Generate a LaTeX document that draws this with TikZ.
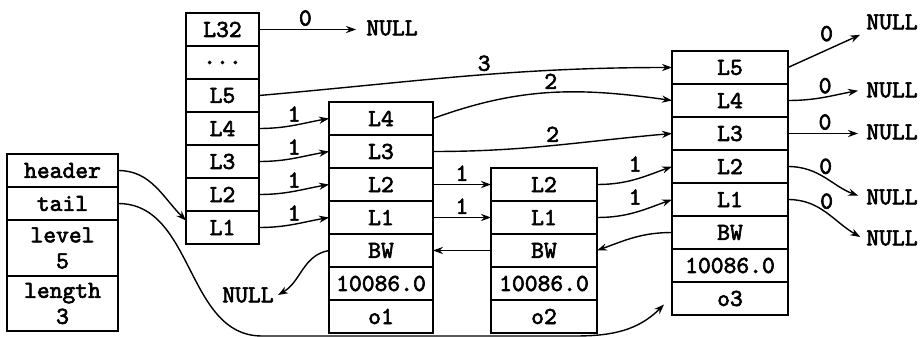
\documentclass[tikz,border=0pt]{standalone}
\usepackage{fontspec}
\newfontfamily\cellface{lmmono10-regular.otf}[FakeBold=2.5]
\usetikzlibrary{positioning,arrows.meta}
\newcommand{\cellfont}{\cellface\fontsize{12.2}{13}\selectfont}

\begin{document}
\begin{tikzpicture}[x=0.5pt, y=-0.5pt,
    node distance=0pt,
    cell/.style={rectangle, draw, line width=1pt, outer sep=0pt, inner sep=0pt,
                 minimum height=16.5pt, align=center, font=\cellfont},
    hdcell/.style={cell, minimum width=36.5pt},
    n1cell/.style={cell, minimum width=52pt},
    n2cell/.style={cell, minimum width=53pt},
    n3cell/.style={cell, minimum width=58pt},
    zslcell/.style={cell, minimum width=55.5pt},
    nul/.style={font=\cellfont, inner sep=2pt},
    lbl/.style={font=\cellfont, inner sep=1.5pt},
    link/.style={->, >={Stealth[length=5pt, width=3.6pt]}, line width=0.7pt}
  ]
  \useasboundingbox (0,0) rectangle (921,337);

  % zskiplist
  \node[zslcell, anchor=north west] (header) at (7,154) {header};
  \node[zslcell, below=of header] (tail) {tail};
  \node[zslcell, below=of tail, minimum height=28pt] (level) {level\\5};
  \node[zslcell, below=of level, minimum height=27.5pt] (length) {length\\3};

  % header node
  \node[hdcell, anchor=north west] (hl32) at (186,13) {L32};
  \node[hdcell, below=of hl32] (hdots) {...};
  \node[hdcell, below=of hdots] (hl5) {L5};
  \node[hdcell, below=of hl5] (hl4) {L4};
  \node[hdcell, below=of hl4] (hl3) {L3};
  \node[hdcell, below=of hl3] (hl2) {L2};
  \node[hdcell, below=of hl2] (hl1) {L1};

  % node o1
  \node[n1cell, anchor=north west] (n1l4) at (329,102) {L4};
  \node[n1cell, below=of n1l4] (n1l3) {L3};
  \node[n1cell, below=of n1l3] (n1l2) {L2};
  \node[n1cell, below=of n1l2] (n1l1) {L1};
  \node[n1cell, below=of n1l1] (n1bw) {BW};
  \node[n1cell, below=of n1bw] (n1score) {10086.0};
  \node[n1cell, below=of n1score] (n1obj) {o1};

  % node o2
  \node[n2cell, anchor=north west] (n2l2) at (491,168) {L2};
  \node[n2cell, below=of n2l2] (n2l1) {L1};
  \node[n2cell, below=of n2l1] (n2bw) {BW};
  \node[n2cell, below=of n2bw] (n2score) {10086.0};
  \node[n2cell, below=of n2score] (n2obj) {o2};

  % node o3
  \node[n3cell, anchor=north west] (n3l5) at (672,51) {L5};
  \node[n3cell, below=of n3l5] (n3l4) {L4};
  \node[n3cell, below=of n3l4] (n3l3) {L3};
  \node[n3cell, below=of n3l3] (n3l2) {L2};
  \node[n3cell, below=of n3l2] (n3l1) {L1};
  \node[n3cell, below=of n3l1] (n3bw) {BW};
  \node[n3cell, below=of n3bw] (n3score) {10086.0};
  \node[n3cell, below=of n3score] (n3obj) {o3};

  % NULL ends
  \node[nul] (null0) at (392,28) {NULL};
  \node[nul] (nullbw) at (248,295) {NULL};
  \node[nul] (nr5) at (892,22) {NULL};
  \node[nul] (nr4) at (892,90) {NULL};
  \node[nul] (nr3) at (892,132) {NULL};
  \node[nul] (nr2) at (892,197) {NULL};
  \node[nul] (nr1) at (892,238) {NULL};

  \coordinate (low1) at (262,336);
  \coordinate (low2) at (575,336);

  % forward links
  \draw[link, shorten >=3pt] (hl32.east) -- (hl32.east -| null0.west) node[lbl, pos=0.45, above] {0};
  \draw[link] (hl5.east) to[out=5, in=180] node[lbl, pos=0.55, above] {3} (n3l5.west);
  \draw[link] (hl4.east) to[out=0, in=190] node[lbl, midway, above] {1} (n1l4.west);
  \draw[link] (hl3.east) to[out=0, in=190] node[lbl, midway, above] {1} (n1l3.west);
  \draw[link] (hl2.east) to[out=0, in=190] node[lbl, midway, above] {1} (n1l2.west);
  \draw[link] (hl1.east) to[out=0, in=190] node[lbl, midway, above] {1} (n1l1.west);
  \draw[link] (n1l4.east) to[out=20, in=172] node[lbl, midway, above] {2} (n3l4.west);
  \draw[link] (n1l3.east) to[out=0, in=185] node[lbl, midway, above] {2} (n3l3.west);
  \draw[link] (n1l2) -- node[lbl, above] {1} (n2l2);
  \draw[link] (n1l1) -- node[lbl, above] {1} (n2l1);
  \draw[link] (n2l2.east) to[out=0, in=200] node[lbl, midway, above, yshift=2pt] {1} (n3l2.west);
  \draw[link] (n2l1.east) to[out=0, in=200] node[lbl, midway, above, yshift=2pt] {1} (n3l1.west);

  % backward links
  \draw[link] (n2bw) -- (n1bw);
  \draw[link] (n3bw.west) to[out=180, in=20] (n2bw.east);
  \draw[link] (n1bw.west) to[out=190, in=30] (nullbw.east);

  % level ends of o3
  \draw[link, shorten >=1pt] (n3l5.east) -- (nr5.south west) node[lbl, pos=0.55, above left=2pt and -4pt] {0};
  \draw[link, shorten >=2pt] (n3l4.east) to[out=0, in=190] node[lbl, midway, above] {0} (nr4.west);
  \draw[link, shorten >=2pt] (n3l3.east) -- node[lbl, above] {0} (n3l3.east -| nr3.west);
  \draw[link, shorten >=2pt] (n3l2.east) to[out=0, in=160] node[lbl, midway, above] {0} (nr2.west);
  \draw[link, shorten >=1pt] (n3l1.east) to[out=0, in=150] node[lbl, midway, above] {0} (nr1.west);

  % header and tail pointers
  \draw[link] (header.east) to[out=0, in=135] ([yshift=3.5pt]hl1.west);
  \draw[link] (tail.east) to[out=0, in=180] (low1) -- (low2)
    to[out=0, in=225] ([xshift=-4pt, yshift=-3pt]n3obj.west);

\end{tikzpicture}
\end{document}
